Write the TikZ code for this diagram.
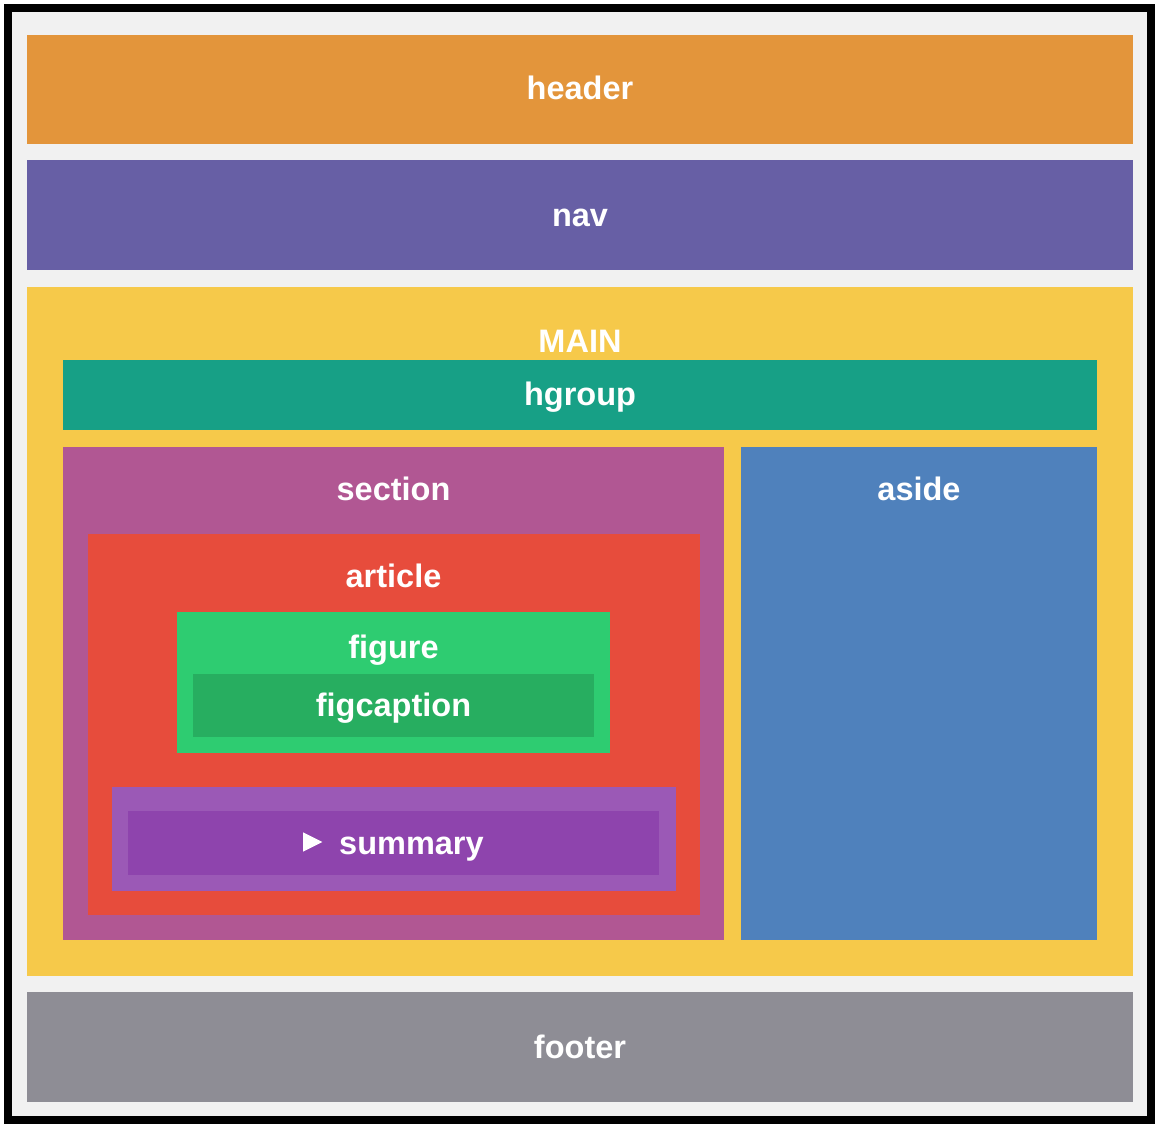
\documentclass[tikz,border=0pt]{standalone}
\usepackage{fontspec}
\setmainfont{Liberation Sans}
\definecolor{bgc}{HTML}{F1F1F1}
\definecolor{headerc}{HTML}{E3953B}
\definecolor{navc}{HTML}{675FA5}
\definecolor{mainc}{HTML}{F6C94A}
\definecolor{hgroupc}{HTML}{17A086}
\definecolor{sectionc}{HTML}{B15793}
\definecolor{asidec}{HTML}{4F81BC}
\definecolor{articlec}{HTML}{E74C3C}
\definecolor{figurec}{HTML}{2ECC71}
\definecolor{figcapc}{HTML}{27AE60}
\definecolor{detailsc}{HTML}{9B59B6}
\definecolor{summaryc}{HTML}{8E44AD}
\definecolor{footerc}{HTML}{8E8D95}
\begin{document}
\begin{tikzpicture}[x=1pt,y=-1pt,
  blk/.style={rectangle, inner sep=0pt, outer sep=0pt, anchor=north west},
  lbl/.style={text=white, font=\fontsize{32.5}{38}\selectfont\bfseries, inner sep=0pt, anchor=base}]
\useasboundingbox (0,0) rectangle (1158,1125);
\fill[white] (0,0) rectangle (1158,1125);
% frame
\node[blk, fill=black, minimum width=1151pt, minimum height=1120pt] (frame) at (4,4) {};
\node[blk, fill=bgc, minimum width=1135pt, minimum height=1104pt] (page) at (12,12) {};
% blocks
\node[blk, fill=headerc, minimum width=1106pt, minimum height=109pt] (header) at (27,35) {};
\node[blk, fill=navc, minimum width=1106pt, minimum height=110pt] (nav) at (27,160) {};
\node[blk, fill=mainc, minimum width=1106pt, minimum height=689pt] (main) at (27,287) {};
\node[blk, fill=hgroupc, minimum width=1034pt, minimum height=70pt] (hgroup) at (63,360) {};
\node[blk, fill=sectionc, minimum width=661pt, minimum height=493pt] (section) at (63,447) {};
\node[blk, fill=asidec, minimum width=356pt, minimum height=493pt] (aside) at (741,447) {};
\node[blk, fill=articlec, minimum width=612pt, minimum height=381pt] (article) at (88,534) {};
\node[blk, fill=figurec, minimum width=433pt, minimum height=141pt] (figure) at (177,612) {};
\node[blk, fill=figcapc, minimum width=401pt, minimum height=63pt] (figcaption) at (193,674) {};
\node[blk, fill=detailsc, minimum width=564pt, minimum height=104pt] (details) at (112,787) {};
\node[blk, fill=summaryc, minimum width=531pt, minimum height=64pt] (summary) at (128,811) {};
\node[blk, fill=footerc, minimum width=1106pt, minimum height=110pt] (footer) at (27,992) {};
% labels
\node[lbl] (theader) at (580,99.3) {header};
\node[lbl] (tnav) at (580,226) {nav};
\node[lbl] (tmain) at (580,352.2) {MAIN};
\node[lbl] (thgroup) at (580,405) {hgroup};
\node[lbl] (tsection) at (393.5,500.3) {section};
\node[lbl] (taside) at (919,500.3) {aside};
\node[lbl] (tarticle) at (393.5,587.5) {article};
\node[lbl] (tfigure) at (393.5,658.5) {figure};
\node[lbl] (tfigcaption) at (393.5,716.8) {figcaption};
\node[lbl, anchor=base west] (tsummary) at (339,854.5) {summary};
\fill[white] (303,832.3) -- (322.3,842) -- (303,851.7) -- cycle;
\node[lbl] (tfooter) at (580,1058.5) {footer};
\end{tikzpicture}
\end{document}
